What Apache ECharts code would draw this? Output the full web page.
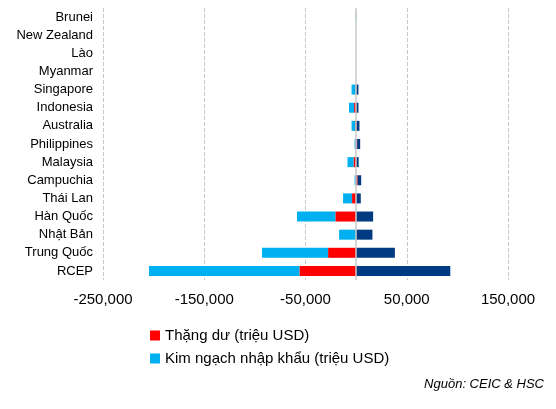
<!DOCTYPE html>
<html>
<head>
<meta charset="utf-8">
<script src="https://cdn.jsdelivr.net/npm/echarts@6/dist/echarts.min.js"></script>
<style>html,body{margin:0;padding:0;background:#fff}#c{width:556px;height:409px}</style>
</head>
<body>
<div id="c"></div>
<script>
var categories = ['Brunei','New Zealand','Lào','Myanmar','Singapore','Indonesia','Australia','Philippines','Malaysia','Campuchia','Thái Lan','Hàn Quốc','Nhật Bản','Trung Quốc','RCEP'];
var surplus = [0,0,0,0,-500,-2000,-1000,1000,-2500,1500,-4000,-20500,-300,-27700,-56000];
var imports = [-500,0,0,0,-4000,-5000,-3500,-1500,-6000,-1500,-8900,-37900,-16500,-65300,-148600];
var exports = [0,0,0,0,2300,2300,3300,3000,2500,3500,4600,16800,16100,38300,93000];
var gridValues = [-250000,-150000,-50000,50000,150000];

var font = 'Liberation Sans, Arial, sans-serif';
var chart = echarts.init(document.getElementById('c'));

var dashed = gridValues.map(function (v) {
	return {xAxis: v, lineStyle: {type: 'dashed', color: '#c8c8c8', width: 1}};
});

chart.setOption({
	animation: false,
	textStyle: {fontFamily: font},
	grid: {left: 103, right: 48, top: 8, height: 272},
	legend: {
		data: ['Thặng dư (triệu USD)', 'Kim ngạch nhập khẩu (triệu USD)'],
		orient: 'vertical', left: 145, top: 323, itemWidth: 10, itemHeight: 10, itemGap: 8,
		icon: 'rect',
		textStyle: {fontSize: 15, color: '#000', fontFamily: font}
	},
	xAxis: {
		type: 'value', min: -250000, max: 150000, interval: 50000,
		axisLine: {show: false}, axisTick: {show: false}, splitLine: {show: false},
		axisLabel: {
			fontSize: 15, color: '#000', margin: 12,
			formatter: function (v) {
				if ((v / 50000) % 2 === 0) return '';
				return v.toLocaleString('en-US');
			}
		}
	},
	yAxis: {
		type: 'category', data: categories, inverse: true,
		axisLine: {show: false}, axisTick: {show: false},
		axisLabel: {fontSize: 13, color: '#000', margin: 10}
	},
	series: [
		{name: 'grid', type: 'bar', data: [], z: 0, silent: true,
			markLine: {silent: true, symbol: 'none', label: {show: false}, data: dashed, z: 0}},
		{name: 'Thặng dư (triệu USD)', type: 'bar', stack: 'a', data: surplus, barWidth: 10,
			itemStyle: {color: '#ff0000'},
			markLine: {silent: true, symbol: 'none', label: {show: false},
				data: [{xAxis: 0, lineStyle: {type: 'solid', color: '#c8c8c8', width: 1.5}}]}},
		{name: 'Kim ngạch nhập khẩu (triệu USD)', type: 'bar', stack: 'a', data: imports, barWidth: 10,
			itemStyle: {color: '#00b0f0'}},
		{name: 'Kim ngạch xuất khẩu (triệu USD)', type: 'bar', stack: 'a', data: exports, barWidth: 10,
			itemStyle: {color: '#003a80'}}
	],
	graphic: [{
		type: 'text', right: 12, top: 378,
		style: {text: 'Nguồn: CEIC & HSC', font: 'italic 13px ' + font, fill: '#000'}
	}]
});
</script>
</body>
</html>
